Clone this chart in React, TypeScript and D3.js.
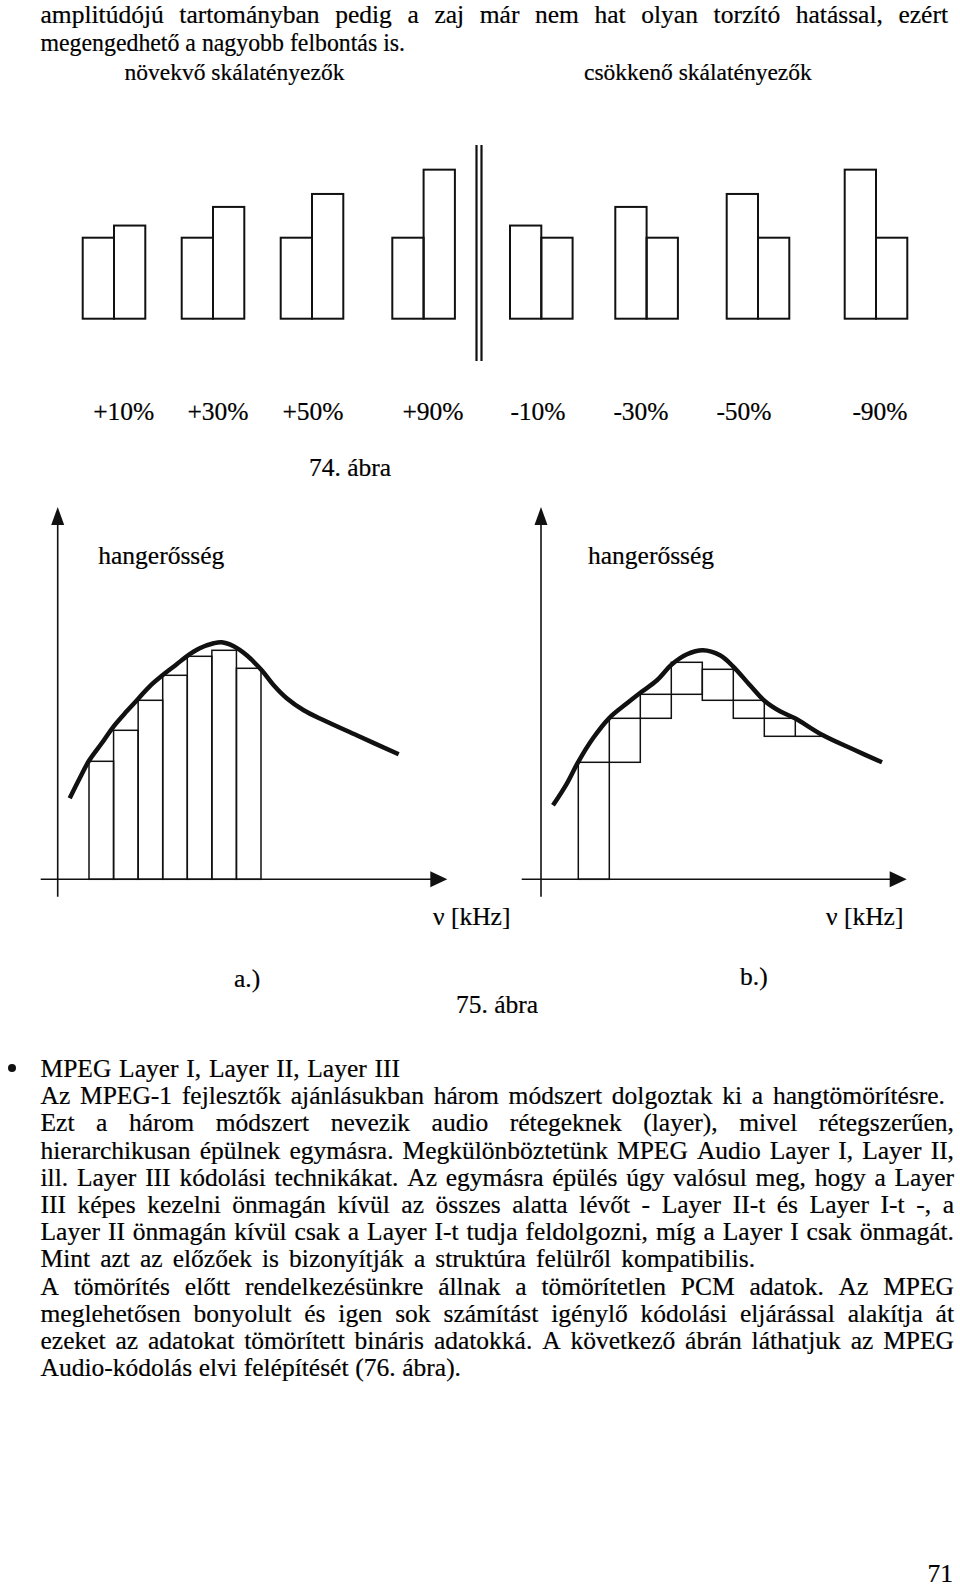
import React from "react";
import * as d3 from "d3";

const FONT = "'Liberation Serif', 'Times New Roman', serif";
const FS = 25.5;
const INK = "#111";
const TXT = { fontFamily: FONT, fontSize: FS, fill: "#000", stroke: "#000", strokeWidth: 0.2 } as const;

// ---------- 74. ábra (scale factors) ----------
const scaleFactorLabels = ["+10%", "+30%", "+50%", "+90%", "-10%", "-30%", "-50%", "-90%"];
const referenceHeights = [100, 100, 100, 100, 100, 100, 100, 100];
const scaledHeights = [115, 138, 154, 184, 115, 138, 154, 184];
const isIncreasing = [true, true, true, true, false, false, false, false];

// ---------- 75. ábra a.) subband levels and loudness curve ----------
const bandLevelsA = [118, 149, 179, 204, 223, 229, 211];
const curveFreqA = [12, 22, 31, 44, 56, 69, 81, 92, 106, 119, 129, 142, 156, 164, 176, 189, 204, 216, 229, 246, 266, 299, 341];
const curveLevelA = [81, 101, 118, 136, 153, 168, 181, 193, 205, 215, 223, 231, 236, 237, 233, 224, 209, 194, 181, 169, 159, 144, 125];

// ---------- 75. ábra b.) step levels and loudness curve ----------
const stepLevelsB = [117, 161, 185, 217, 210, 179, 161, 143];
const curveFreqB = [12, 26, 37, 52, 68, 86, 100, 116, 131, 146, 162, 179, 192, 209, 224, 239, 254, 282, 312, 341];
const curveLevelB = [74, 96, 117, 141, 161, 176, 187, 199, 215, 225, 229, 224, 213, 194, 178, 168, 161, 144, 130, 117];

// ---------- text ----------
const topLines = [
  { t: "amplitúdójú tartományban pedig a zaj már nem hat olyan torzító hatással, ezért", end: 948 },
  { t: "megengedhető a nagyobb felbontás is.", end: 405 },
];
const paraLines = [
  { t: "MPEG Layer I, Layer II, Layer III", end: 400 },
  { t: "Az MPEG-1 fejlesztők ajánlásukban három módszert dolgoztak ki a hangtömörítésre.", end: 945 },
  { t: "Ezt a három módszert nevezik audio rétegeknek (layer), mivel rétegszerűen,", end: 954 },
  { t: "hierarchikusan épülnek egymásra. Megkülönböztetünk MPEG Audio Layer I, Layer II,", end: 954 },
  { t: "ill. Layer III kódolási technikákat. Az egymásra épülés úgy valósul meg, hogy a Layer", end: 954 },
  { t: "III képes kezelni önmagán kívül az összes alatta lévőt - Layer II-t és Layer I-t -, a", end: 954 },
  { t: "Layer II önmagán kívül csak a Layer I-t tudja feldolgozni, míg a Layer I csak önmagát.", end: 954 },
  { t: "Mint azt az előzőek is bizonyítják a struktúra felülről kompatibilis.", end: 755 },
  { t: "A tömörítés előtt rendelkezésünkre állnak a tömörítetlen PCM adatok. Az MPEG", end: 954 },
  { t: "meglehetősen bonyolult és igen sok számítást igénylő kódolási eljárással alakítja át", end: 954 },
  { t: "ezeket az adatokat tömörített bináris adatokká. A következő ábrán láthatjuk az MPEG", end: 954 },
  { t: "Audio-kódolás elvi felépítését (76. ábra).", end: 461 },
];

let ctx: CanvasRenderingContext2D | null = null;
function measure(s: string) {
  if (!ctx) {
    const c = document.createElement("canvas");
    ctx = c.getContext("2d");
  }
  ctx!.font = `${FS}px 'Liberation Serif'`;
  return ctx!.measureText(s).width;
}

function JustLine({ t, x, y, end }: { t: string; x: number; y: number; end: number | null }) {
  if (end == null) {
    return (
      <text x={x} y={y} {...TXT}>
        {t}
      </text>
    );
  }
  const words = t.split(" ");
  const widths = words.map(measure);
  const total = d3.sum(widths);
  const spaceW = measure(" ");
  const gap = (end - x - total) / (words.length - 1);
  if (gap < spaceW * 0.8) {
    return (
      <text x={x} y={y} textLength={end - x} lengthAdjust="spacingAndGlyphs" {...TXT}>
        {t}
      </text>
    );
  }
  let cx = x;
  const pos = widths.map((w) => {
    const p = cx;
    cx += w + gap;
    return p;
  });
  return (
    <text y={y} {...TXT}>
      {words.map((w, i) => (
        <tspan key={i} x={pos[i]}>
          {w}
        </tspan>
      ))}
    </text>
  );
}

function Fig74() {
  const baseY = 318.7;
  const barW = 31.3;
  const gx = d3
    .scaleOrdinal<string, number>()
    .domain(scaleFactorLabels)
    .range([82.7, 181.7, 280.7, 392.3, 510, 615.3, 726.7, 844.7]);
  const lx = d3
    .scaleOrdinal<string, number>()
    .domain(scaleFactorLabels)
    .range([123.7, 218, 313, 433, 538, 641, 744, 880]);
  const h = d3.scaleLinear().domain([0, 100]).range([0, 81]);
  return (
    <g>
      {scaleFactorLabels.map((lab, i) => {
        const first = isIncreasing[i] ? referenceHeights[i] : scaledHeights[i];
        const second = isIncreasing[i] ? scaledHeights[i] : referenceHeights[i];
        const x0 = gx(lab);
        return (
          <g key={lab} fill="none" stroke={INK} strokeWidth={2}>
            <rect x={x0} y={baseY - h(first)} width={barW} height={h(first)} />
            <rect x={x0 + barW} y={baseY - h(second)} width={barW} height={h(second)} />
          </g>
        );
      })}
      <line x1={476.5} x2={476.5} y1={145} y2={361} stroke={INK} strokeWidth={2.2} />
      <line x1={481.5} x2={481.5} y1={145} y2={361} stroke={INK} strokeWidth={2.2} />
      {scaleFactorLabels.map((lab) => (
        <text key={lab} x={lx(lab)} y={420} textAnchor="middle" {...TXT}>
          {lab}
        </text>
      ))}
      <text x={124.5} y={80} {...TXT} fontSize={23.5}>
        növekvő skálatényezők
      </text>
      <text x={584} y={80} {...TXT} fontSize={23.5}>
        csökkenő skálatényezők
      </text>
      <text x={350} y={476} textAnchor="middle" {...TXT}>
        74. ábra
      </text>
    </g>
  );
}

function Axes({ ox, axisLeft, tip }: { ox: number; axisLeft: number; tip: number }) {
  const y0 = 879.3;
  const yTop = 507;
  return (
    <g>
      <line x1={axisLeft} x2={tip - 10} y1={y0} y2={y0} stroke={INK} strokeWidth={1.6} />
      <polygon points={`${tip},${y0} ${tip - 17},${y0 - 8} ${tip - 17},${y0 + 8}`} fill={INK} />
      <line x1={ox} x2={ox} y1={896.7} y2={yTop + 10} stroke={INK} strokeWidth={1.6} />
      <polygon points={`${ox},${yTop} ${ox - 6.5},${yTop + 18} ${ox + 6.5},${yTop + 18}`} fill={INK} />
    </g>
  );
}

function Fig75() {
  const y = d3.scaleLinear().domain([0, 250]).range([879.3, 629.3]);
  const xA = d3.scaleLinear().domain([0, 400]).range([57.7, 457.7]);
  const xB = d3.scaleLinear().domain([0, 400]).range([541, 941]);
  const bandA = d3.scaleBand<number>().domain(d3.range(bandLevelsA.length)).range([xA(31.3), xA(203.3)]);
  const bandB = d3.scaleBand<number>().domain(d3.range(stepLevelsB.length)).range([xB(37.3), xB(285.3)]);

  const curveA = d3
    .line<number>()
    .x((_, i) => xA(curveFreqA[i]))
    .y((d) => y(d))
    .curve(d3.curveCatmullRom.alpha(0.5))(curveLevelA);
  const curveB = d3
    .line<number>()
    .x((_, i) => xB(curveFreqB[i]))
    .y((d) => y(d))
    .curve(d3.curveCatmullRom.alpha(0.5))(curveLevelB);

  const peak = d3.maxIndex(stepLevelsB);
  const stepsB = stepLevelsB.map((lv, i) => {
    if (i <= peak) {
      const lower = i === 0 ? 0 : stepLevelsB[i - 1];
      return { i, top: lv, bottom: lower, line: false };
    }
    if (i === stepLevelsB.length - 1) return { i, top: lv, bottom: lv, line: true };
    return { i, top: lv, bottom: stepLevelsB[i + 1], line: false };
  });

  return (
    <g>
      {/* panel a */}
      <g fill="none" stroke={INK} strokeWidth={1.5}>
        {bandLevelsA.map((lv, i) => (
          <rect key={i} x={bandA(i)} y={y(lv)} width={bandA.bandwidth()} height={y(0) - y(lv)} />
        ))}
      </g>
      <Axes ox={xA(0)} axisLeft={xA(-17)} tip={xA(389.6)} />
      <path d={curveA || ""} fill="none" stroke={INK} strokeWidth={4.5} />

      {/* panel b */}
      <g fill="none" stroke={INK} strokeWidth={1.5}>
        {stepsB.map((s) =>
          s.line ? (
            <line key={s.i} x1={bandB(s.i)} x2={bandB(s.i)! + bandB.bandwidth()} y1={y(s.top)} y2={y(s.top)} />
          ) : (
            <rect key={s.i} x={bandB(s.i)} y={y(s.top)} width={bandB.bandwidth()} height={y(s.bottom) - y(s.top)} />
          )
        )}
      </g>
      <Axes ox={xB(0)} axisLeft={xB(-19.3)} tip={xB(365.7)} />
      <path d={curveB || ""} fill="none" stroke={INK} strokeWidth={4.5} />

      <g>
        <text x={98.3} y={564} {...TXT}>hangerősség</text>
        <text x={588} y={564} {...TXT}>hangerősség</text>
        <text x={433} y={925} {...TXT}>ν [kHz]</text>
        <text x={826} y={925} {...TXT}>ν [kHz]</text>
        <text x={234} y={987} {...TXT}>a.)</text>
        <text x={740} y={985} {...TXT}>b.)</text>
        <text x={497} y={1013} textAnchor="middle" {...TXT}>75. ábra</text>
      </g>
    </g>
  );
}

export default function App() {
  const paraY = d3.range(paraLines.length).map((i) => 1077 + i * 27.2);
  return (
    <svg
      width={960}
      height={1590}
      style={{ position: "absolute", left: 0, top: 0, background: "#fff" }}
    >
      <rect width={960} height={1590} fill="#fff" />
      {topLines.map((l, i) => (
        <JustLine key={i} t={l.t} x={40.5} y={23.3 + i * 27.2} end={l.end} />
      ))}
      <Fig74 />
      <Fig75 />
      <circle cx={12} cy={1068} r={4} fill={INK} />
      {paraLines.map((l, i) => (
        <JustLine key={i} t={l.t} x={40.5} y={paraY[i]} end={l.end} />
      ))}
      <text x={953} y={1582} textAnchor="end" {...TXT}>
        71
      </text>
    </svg>
  );
}
